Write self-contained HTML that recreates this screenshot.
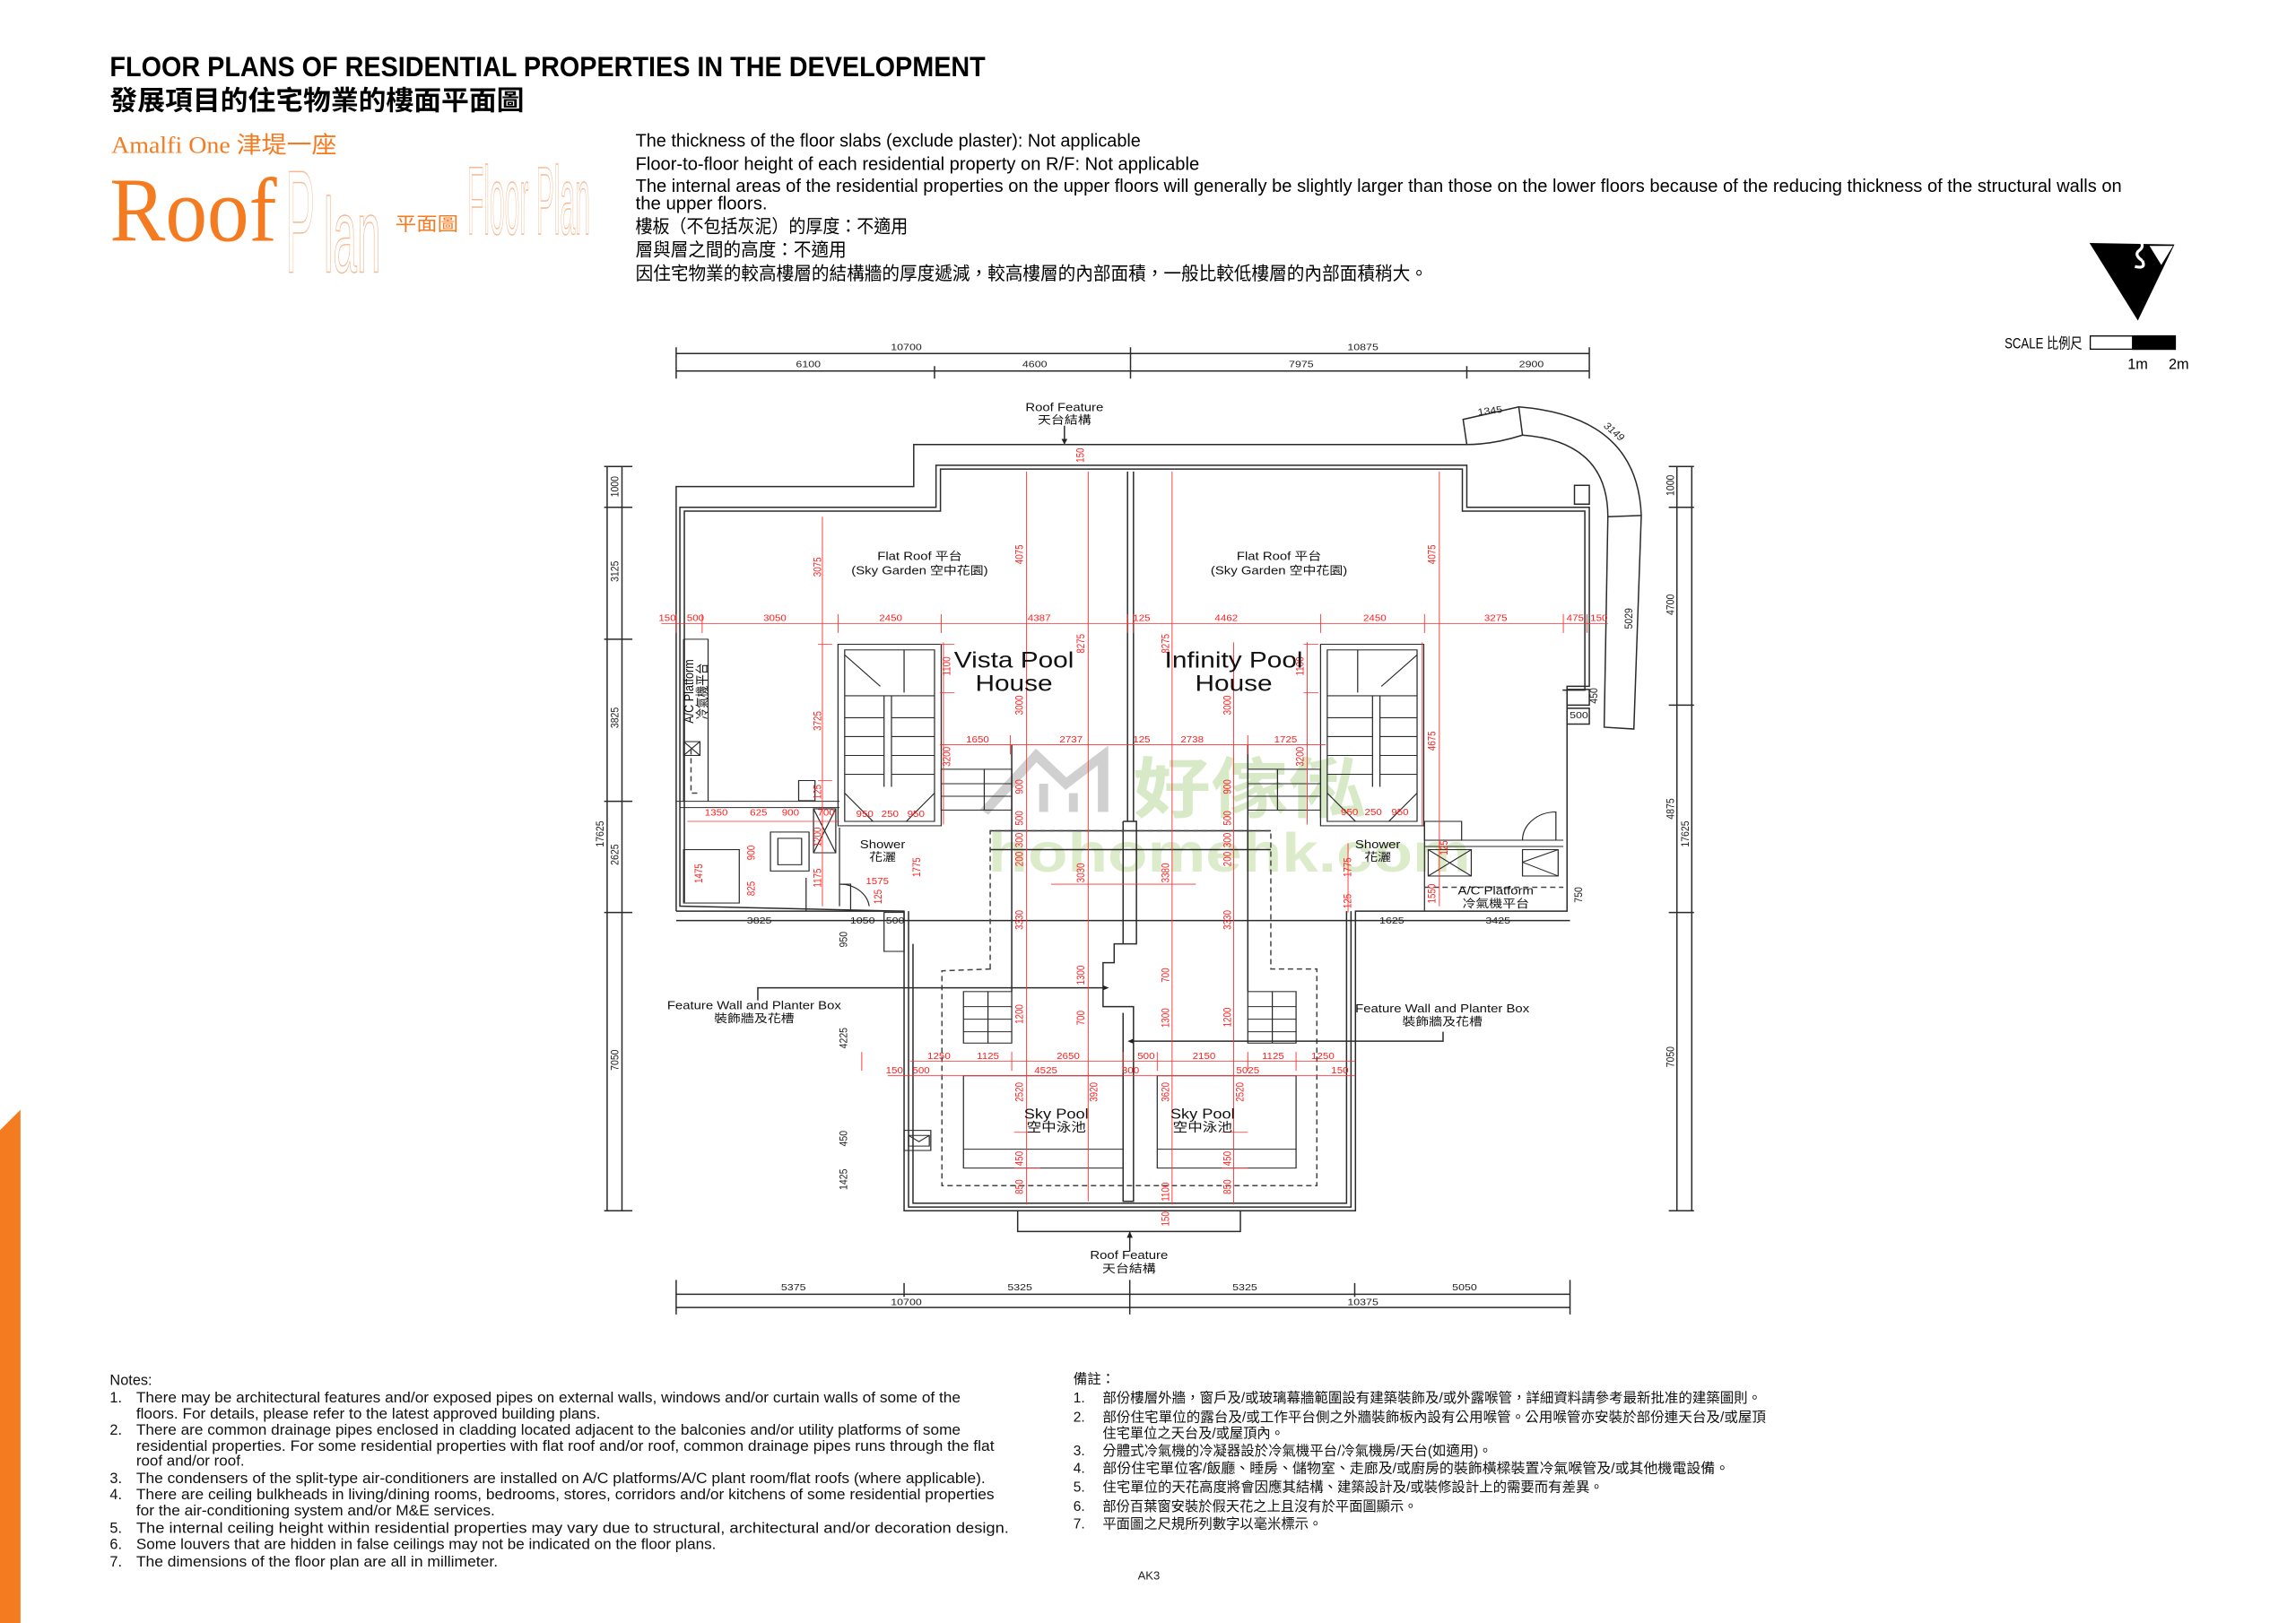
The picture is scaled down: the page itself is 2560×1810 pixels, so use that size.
<!DOCTYPE html>
<html><head><meta charset="utf-8"><style>
html,body{margin:0;padding:0;background:#fff;}
svg{display:block}
.k{stroke:#2a2a2a;fill:none;stroke-width:1.5;vector-effect:non-scaling-stroke}
.r{stroke:#ff3030;fill:none;stroke-width:1.1;vector-effect:non-scaling-stroke}
.d{stroke:#444;fill:none;stroke-width:1.5;stroke-dasharray:6 4;vector-effect:non-scaling-stroke}
.t{font-family:"Liberation Sans",sans-serif;fill:#111}
.rt{font-family:"Liberation Sans Narrow","Liberation Sans",sans-serif;fill:#ff2020;font-size:14px}
.dt{font-family:"Liberation Sans Narrow","Liberation Sans",sans-serif;fill:#222;font-size:15px}
.c{font-family:"Liberation Sans","Noto Sans CJK TC",sans-serif;fill:#111}
.thin{fill:none;stroke:#f6b890;stroke-width:0.9;font-family:"Liberation Sans",sans-serif}
</style></head><body>
<svg width="2560" height="1810" viewBox="0 0 1568 1108.6" preserveAspectRatio="none" xmlns="http://www.w3.org/2000/svg">
<rect width="1568" height="1108.6" fill="#fff"/>
<polygon points="0,772 14,758 14,1109 0,1109" fill="#f47b20"/>
<text x="75" y="52" font-family="Liberation Sans Narrow,Liberation Sans,sans-serif" font-weight="bold" font-size="19" textLength="598" lengthAdjust="spacingAndGlyphs" fill="#000">FLOOR PLANS OF RESIDENTIAL PROPERTIES IN THE DEVELOPMENT</text>
<text x="75" y="75" font-family="Noto Sans CJK TC,sans-serif" font-weight="bold" font-size="18.5" textLength="283" lengthAdjust="spacingAndGlyphs" fill="#000">發展項目的住宅物業的樓面平面圖</text>
<text x="76" y="104.5" font-family="Liberation Serif,Noto Sans CJK TC,serif" font-size="16" fill="#f47b20" textLength="154" lengthAdjust="spacingAndGlyphs">Amalfi One 津堤一座</text>
<text x="75" y="164.5" font-family="Liberation Serif,serif" font-size="62" fill="#f47b20" textLength="114" lengthAdjust="spacingAndGlyphs">Roof</text>
<text class="thin" x="195" y="186" font-size="100" textLength="20" lengthAdjust="spacingAndGlyphs">P</text>
<text class="thin" x="221" y="186" font-size="72" textLength="39" lengthAdjust="spacingAndGlyphs">lan</text>
<text x="270" y="157.5" font-family="Noto Sans CJK TC,sans-serif" font-size="13" fill="#f47b20" textLength="43" lengthAdjust="spacingAndGlyphs">平面圖</text>
<text class="thin" x="319" y="160" font-size="66" textLength="84" lengthAdjust="spacingAndGlyphs">Floor Plan</text>
<g font-family="Liberation Sans Narrow,Liberation Sans,Noto Sans CJK TC,sans-serif" font-size="12.5" fill="#000">
<text x="434" y="100" textLength="345" lengthAdjust="spacingAndGlyphs">The thickness of the floor slabs (exclude plaster): Not applicable</text>
<text x="434" y="116" textLength="385" lengthAdjust="spacingAndGlyphs">Floor-to-floor height of each residential property on R/F: Not applicable</text>
<text x="434" y="131" textLength="1015" lengthAdjust="spacingAndGlyphs">The internal areas of the residential properties on the upper floors will generally be slightly larger than those on the lower floors because of the reducing thickness of the structural walls on</text>
<text x="434" y="143" textLength="90" lengthAdjust="spacingAndGlyphs">the upper floors.</text>
<text x="434" y="159" textLength="186" lengthAdjust="spacingAndGlyphs">樓板（不包括灰泥）的厚度：不適用</text>
<text x="434" y="175" textLength="144" lengthAdjust="spacingAndGlyphs">層與層之間的高度：不適用</text>
<text x="434" y="191" textLength="541" lengthAdjust="spacingAndGlyphs">因住宅物業的較高樓層的結構牆的厚度遞減，較高樓層的內部面積，一般比較低樓層的內部面積稍大。</text>
</g>
<polygon points="1427,166 1485,167 1460,219" fill="#000"/>
<polygon points="1468,168 1484,168 1476,181" fill="#fff"/>
<path d="M1463,178 q-6,-4 -2,-7 q4,-3 0,-7 M1458,182 q8,2 5,-4" stroke="#fff" stroke-width="2" fill="none"/>
<rect x="1427.5" y="229.5" width="29" height="9" fill="#fff" stroke="#000" stroke-width="0.8"/>
<rect x="1456" y="229" width="30" height="10" fill="#000"/>
<text x="1369" y="238" font-family="Liberation Sans Narrow,Liberation Sans,Noto Sans CJK TC,sans-serif" font-size="10" textLength="53" lengthAdjust="spacingAndGlyphs">SCALE 比例尺</text>
<text x="1453" y="252" font-family="Liberation Sans Narrow,sans-serif" font-size="10">1m</text>
<text x="1481" y="252" font-family="Liberation Sans Narrow,sans-serif" font-size="10">2m</text>

<g transform="matrix(0.507 0 0 0.429 398.4 215.7)">
<g opacity="0.55">
<path d="M540,790 L610,700 L650,745 L700,700 L700,790" stroke="#aaa" stroke-width="14" fill="none"/>
<path d="M620,790 L620,745 M660,790 L660,760" stroke="#aaa" stroke-width="12"/>
<text x="740" y="790" font-family="Noto Sans CJK TC,sans-serif" font-size="105" font-weight="bold" fill="#b8d898">好傢俬</text>
<text x="545" y="885" font-family="Liberation Sans,sans-serif" font-size="88" font-weight="bold" fill="#c0dca0">hohomehk.com</text>
</g>
<path class="k" d="M125,60 H1355 M125,88 H1355 M125,50 V100 M473,80 V100 M737,50 V100 M1190,80 V100 M1355,50 V100"/>
<g class="dt" text-anchor="middle">
<text x="435" y="55">10700</text><text x="1050" y="55">10875</text>
<text x="303" y="82">6100</text><text x="608" y="82">4600</text><text x="967" y="82">7975</text><text x="1277" y="82">2900</text>
</g>
<path class="k" d="M32,240 V1425 M52,240 V1425 M28,240 H66 M28,305 H66 M28,515 H66 M28,773 H66 M28,950 H66 M28,1425 H66"/>
<path class="k" d="M1473,240 V1425 M1493,240 V1425 M1462,240 H1496 M1462,305 H1496 M1462,620 H1496 M1462,950 H1496 M1462,1425 H1496"/>
<g class="dt" text-anchor="middle">
<text transform="translate(47,272) rotate(-90)">1000</text>
<text transform="translate(47,407) rotate(-90)">3125</text>
<text transform="translate(47,640) rotate(-90)">3825</text>
<text transform="translate(47,858) rotate(-90)">2625</text>
<text transform="translate(47,1185) rotate(-90)">7050</text>
<text transform="translate(27,825) rotate(-90)">17625</text>
<text transform="translate(1469,270) rotate(-90)">1000</text>
<text transform="translate(1469,460) rotate(-90)">4700</text>
<text transform="translate(1469,785) rotate(-90)">4875</text>
<text transform="translate(1469,1180) rotate(-90)">7050</text>
<text transform="translate(1489,825) rotate(-90)">17625</text>
<text transform="translate(1413,482) rotate(-90)">5029</text>
<text transform="translate(355,1150) rotate(-90)">4225</text>
<text transform="translate(355,1310) rotate(-90)">450</text>
<text transform="translate(355,1375) rotate(-90)">1425</text>
<text transform="translate(355,993) rotate(-90)">950</text>
<text transform="translate(1345,922) rotate(-90)">750</text>
<text transform="translate(1366,605) rotate(-90)">450</text>
<text x="1341" y="641">500</text>
<text x="1222" y="156" transform="rotate(-8 1222 156)">1345</text>
<text x="1385" y="188" transform="rotate(45 1385 188)">3149</text>
</g>
<path class="k" d="M125,1558 H1329 M125,1579 H1329 M125,1535 V1590 M432,1540 V1562 M736,1535 V1590 M1039,1540 V1562 M1329,1535 V1590"/>
<g class="dt" text-anchor="middle">
<text x="283" y="1552">5375</text><text x="588" y="1552">5325</text><text x="891" y="1552">5325</text><text x="1187" y="1552">5050</text>
<text x="435" y="1575">10700</text><text x="1050" y="1575">10375</text>
</g>
<path class="k" d="M125,948 V272 H445 V205 H1190"/>
<path class="k" d="M1190,205 Q1225,205 1265,190 Q1380,200 1380,320 L1375,655 L1415,658 L1425,318 Q1420,160 1260,145 L1185,165 L1190,205"/>
<path class="k" d="M1265,190 L1260,145"/>
<path class="k" d="M1380,320 L1425,318"/>
<path class="k" d="M130,940 V305 H475 V238 H1190 V305 H1355 V590 H1325 V948 H1040 V1425 H432 V948 Z"/>
<path class="k" d="M136,934 V311 H481 V244 H1184 V311 H1349 V596 H1319"/>
<path class="k" d="M438,948 V1419 H1034 V948"/>
<path class="k" d="M444,1000 V1413 H1028 V948"/>
<path class="k" d="M125,948 H432 M125,963 H1329"/>
<path class="k" d="M1335,270 H1355 V300 H1335 Z M1325,595 H1355 V620 H1325 Z M1325,625 H1355 V650 H1325 Z"/>
<path class="k" d="M585,1425 V1458 H885 V1425 M736,1458 V1490"/>
<polygon points="736,1458 732,1468 740,1468" fill="#222"/>
<path class="k" d="M648,175 V200"/><polygon points="648,205 644,196 652,196" fill="#222"/>
<path class="k" d="M733,248 V805 M741,248 V805 M727,805 H745 V1000 H715 V1030 H700 V1100 H741 V1410 H727 V1110 M727,805 V1000"/>
<path class="k" d="M577,683 V1076 M895,683 V1076 M548,820 H926 M548,850 H926"/>
<path class="d" d="M548,1040 V820 H926 V1040 H988 V1385 H483 V1043 Z"/>
<g class="k">
<rect x="343" y="523" width="139" height="289"/><rect x="352" y="532" width="121" height="273"/>
<path d="M405,605 V750 M415,605 V750 M352,605 H473 M352,640 H405 M352,670 H405 M352,700 H405 M352,730 H405 M415,640 H473 M415,670 H473 M415,700 H473 M415,730 H473 M352,760 L390,805 M473,760 L435,805 M352,540 L400,590 M432,532 V600"/>
<rect x="993" y="523" width="139" height="289"/><rect x="1002" y="532" width="121" height="273"/>
<path d="M1063,605 V750 M1073,605 V750 M1002,605 H1123 M1002,640 H1063 M1002,670 H1063 M1002,700 H1063 M1002,730 H1063 M1073,640 H1123 M1073,670 H1123 M1073,700 H1123 M1073,730 H1123 M1002,760 L1040,805 M1123,760 L1085,805 M1123,540 L1075,590 M1043,532 V600"/>
<rect x="482" y="722" width="95" height="65"/><path d="M482,745 H577 M482,765 H577 M540,722 V787"/>
<rect x="895" y="722" width="98" height="65"/><path d="M895,745 H993 M895,765 H993 M935,722 V787"/>
<rect x="512" y="1076" width="65" height="82"/><path d="M512,1100 H577 M512,1120 H577 M512,1140 H577 M545,1076 V1158"/>
<rect x="895" y="1076" width="65" height="82"/><path d="M895,1100 H960 M895,1120 H960 M895,1140 H960 M928,1076 V1158"/>
<rect x="512" y="1210" width="215" height="147"/><path d="M512,1327 H727"/>
<rect x="773" y="1210" width="187" height="147"/><path d="M773,1327 H960"/>
<path d="M125,773 H345 M130,783 H345 M135,515 H168 V773 M135,515 V773"/>
<rect x="135" y="850" width="75" height="85"/><rect x="252" y="822" width="52" height="62"/><rect x="262" y="832" width="32" height="42"/>
<rect x="310" y="785" width="30" height="70"/><path d="M310,785 L340,855 M340,785 L310,855"/>
<rect x="135" y="678" width="22" height="22"/><path d="M135,678 L157,700 M157,678 L135,700"/>
<rect x="290" y="740" width="22" height="32"/>
<path d="M345,815 V940 M300,895 V948 M345,905 H360 V948"/>
<path d="M345,905 A40,40 0 0 1 385,940"/>
<path d="M1133,835 H1320 M1133,845 H1320 M1133,812 V948"/>
<rect x="1138" y="850" width="58" height="42"/><path d="M1138,850 L1196,892 M1196,850 L1138,892"/>
<rect x="1265" y="850" width="48" height="42"/><path d="M1265,870 L1313,850 M1265,870 L1313,892"/>
<rect x="1133" y="805" width="50" height="30"/>
<path d="M1265,835 A45,45 0 0 1 1310,790 V835"/>
<rect x="432" y="1297" width="36" height="32"/><path d="M438,1305 L452,1315 L466,1305 M438,1305 H466 V1322 H438 Z"/>
<rect x="405" y="950" width="27" height="62"/>
</g>
<path class="d" d="M1133,910 H1320"/>
<path class="d" d="M145,690 V760 H158"/>
<path class="k" d="M235,1090 V1070 H705 M1158,1140 V1155 H737"/>
<polygon points="708,1070 700,1066 700,1074" fill="#222"/>
<polygon points="733,1155 741,1151 741,1159" fill="#222"/>
<g class="r">
<path d="M105,490 H1380 M480,683 H1000 M440,1187 H1040 M410,1210 H1040 M140,805 H345 M630,905 H825"/>
<path d="M597,248 V1415 M680,248 V1410 M793,248 V1415 M876,520 V1415 M322,320 V940 M1153,248 V940 M485,520 V810 M975,520 V810 M1130,520 V812 M1030,840 V950"/>
<path d="M125,475 V505 M160,475 V505 M343,475 V505 M482,475 V505 M733,475 V505 M741,475 V505 M993,475 V505 M1133,475 V505 M1320,475 V505 M1352,475 V505 M575,668 V698 M895,668 V698 M375,1172 V1202 M577,1172 V1202 M727,1172 V1202 M773,1172 V1202 M895,1172 V1202 M960,1172 V1202"/>
<path d="M316,523 H335 M316,740 H335 M480,523 H500 M480,600 H500 M970,523 H990 M970,600 H990 M580,1300 H615 M580,1357 H615 M860,1300 H895 M860,1357 H895"/>
</g>
<g class="rt" text-anchor="middle">
<text x="113" y="486">150</text><text x="151" y="486">500</text><text x="258" y="486">3050</text><text x="414" y="486">2450</text><text x="614" y="486">4387</text><text x="752" y="486">125</text><text x="866" y="486">4462</text><text x="1066" y="486">2450</text><text x="1229" y="486">3275</text><text x="1336" y="486">475</text><text x="1368" y="486">150</text>
<text x="531" y="679">1650</text><text x="657" y="679">2737</text><text x="752" y="679">125</text><text x="820" y="679">2738</text><text x="946" y="679">1725</text>
<text x="179" y="796">1350</text><text x="236" y="796">625</text><text x="279" y="796">900</text><text x="327" y="796">700</text>
<text x="379" y="798">950</text><text x="413" y="798">250</text><text x="448" y="798">950</text>
<text x="1032" y="795">950</text><text x="1064" y="795">250</text><text x="1100" y="795">950</text>
<text x="396" y="905">1575</text>
<text x="479" y="1183">1250</text><text x="545" y="1183">1125</text><text x="653" y="1183">2650</text><text x="758" y="1183">500</text><text x="836" y="1183">2150</text><text x="929" y="1183">1125</text><text x="996" y="1183">1250</text>
<text x="419" y="1206">150</text><text x="455" y="1206">500</text><text x="623" y="1206">4525</text><text x="737" y="1206">300</text><text x="895" y="1206">5025</text><text x="1019" y="1206">150</text>
<text transform="translate(674,222) rotate(-90)">150</text>
<text transform="translate(320,400) rotate(-90)">3075</text>
<text transform="translate(592,380) rotate(-90)">4075</text>
<text transform="translate(1148,380) rotate(-90)">4075</text>
<text transform="translate(675,522) rotate(-90)">8275</text>
<text transform="translate(789,522) rotate(-90)">8275</text>
<text transform="translate(320,645) rotate(-90)">3725</text>
<text transform="translate(494,558) rotate(-90)">1100</text>
<text transform="translate(970,558) rotate(-90)">1100</text>
<text transform="translate(592,620) rotate(-90)">3000</text>
<text transform="translate(872,620) rotate(-90)">3000</text>
<text transform="translate(494,702) rotate(-90)">3200</text>
<text transform="translate(970,702) rotate(-90)">3200</text>
<text transform="translate(1148,677) rotate(-90)">4675</text>
<text transform="translate(592,750) rotate(-90)">900</text><text transform="translate(872,750) rotate(-90)">900</text>
<text transform="translate(592,800) rotate(-90)">500</text><text transform="translate(872,800) rotate(-90)">500</text>
<text transform="translate(592,835) rotate(-90)">300</text><text transform="translate(872,835) rotate(-90)">300</text>
<text transform="translate(592,865) rotate(-90)">200</text><text transform="translate(872,865) rotate(-90)">200</text>
<text transform="translate(675,887) rotate(-90)">3030</text><text transform="translate(789,887) rotate(-90)">3380</text>
<text transform="translate(592,962) rotate(-90)">3330</text><text transform="translate(872,962) rotate(-90)">3330</text>
<text transform="translate(675,1050) rotate(-90)">1300</text><text transform="translate(789,1050) rotate(-90)">700</text>
<text transform="translate(675,1118) rotate(-90)">700</text><text transform="translate(789,1118) rotate(-90)">1300</text>
<text transform="translate(592,1112) rotate(-90)">1200</text><text transform="translate(872,1117) rotate(-90)">1200</text>
<text transform="translate(592,1236) rotate(-90)">2520</text><text transform="translate(889,1236) rotate(-90)">2520</text>
<text transform="translate(692,1236) rotate(-90)">3920</text><text transform="translate(789,1236) rotate(-90)">3620</text>
<text transform="translate(592,1342) rotate(-90)">450</text><text transform="translate(872,1342) rotate(-90)">450</text>
<text transform="translate(592,1387) rotate(-90)">850</text><text transform="translate(872,1387) rotate(-90)">850</text>
<text transform="translate(789,1395) rotate(-90)">1100</text><text transform="translate(789,1438) rotate(-90)">150</text>
<text transform="translate(160,888) rotate(-90)">1475</text>
<text transform="translate(231,855) rotate(-90)">900</text><text transform="translate(231,912) rotate(-90)">825</text>
<text transform="translate(320,895) rotate(-90)">1175</text><text transform="translate(320,830) rotate(-90)">1200</text>
<text transform="translate(454,878) rotate(-90)">1775</text><text transform="translate(1034,878) rotate(-90)">1775</text>
<text transform="translate(1034,932) rotate(-90)">125</text><text transform="translate(1148,920) rotate(-90)">1550</text>
<text transform="translate(1164,847) rotate(-90)">125</text><text transform="translate(320,758) rotate(-90)">125</text>
<text transform="translate(402,925) rotate(-90)">125</text>
</g>
<g class="dt" text-anchor="middle">
<text x="237" y="968">3825</text><text x="376" y="968">1050</text><text x="420" y="968">500</text>
<text x="1089" y="968">1625</text><text x="1232" y="968">3425</text>
</g>
<g class="c" text-anchor="middle" font-size="18">
<text x="648" y="152">Roof Feature</text><text x="648" y="172">天台結構</text>
<text x="453" y="389">Flat Roof 平台</text><text x="453" y="412">(Sky Garden 空中花園)</text>
<text x="937" y="389">Flat Roof 平台</text><text x="937" y="412">(Sky Garden 空中花園)</text>
<text x="403" y="848">Shower</text><text x="403" y="868">花灑</text>
<text x="1070" y="848">Shower</text><text x="1070" y="868">花灑</text>
<text x="1229" y="921">A/C Platform</text><text x="1229" y="942">冷氣機平台</text>
<text x="230" y="1104">Feature Wall and Planter Box</text><text x="230" y="1125">裝飾牆及花槽</text>
<text x="1157" y="1109">Feature Wall and Planter Box</text><text x="1157" y="1130">裝飾牆及花槽</text>
<text x="637" y="1278" font-size="22">Sky Pool</text><text x="637" y="1299" font-size="20">空中泳池</text>
<text x="834" y="1278" font-size="22">Sky Pool</text><text x="834" y="1299" font-size="20">空中泳池</text>
<text x="735" y="1502">Roof Feature</text><text x="735" y="1523">天台結構</text>
<text transform="translate(148,598) rotate(-90)">A/C Platform</text>
<text transform="translate(166,598) rotate(-90)">冷氣機平台</text>
</g>
<g class="t" text-anchor="middle" font-size="36">
<text x="580" y="560">Vista Pool</text><text x="580" y="597">House</text>
<text x="876" y="560">Infinity Pool</text><text x="876" y="597">House</text>
</g>
</g>

<g font-family="Liberation Sans Narrow,Liberation Sans,sans-serif" font-size="10" fill="#111">
<text x="75" y="946">Notes:</text>
<text x="75" y="958">1.</text><text x="93" y="958" textLength="563" lengthAdjust="spacingAndGlyphs">There may be architectural features and/or exposed pipes on external walls, windows and/or curtain walls of some of the</text>
<text x="93" y="969" textLength="317" lengthAdjust="spacingAndGlyphs">floors. For details, please refer to the latest approved building plans.</text>
<text x="75" y="980">2.</text><text x="93" y="980" textLength="563" lengthAdjust="spacingAndGlyphs">There are common drainage pipes enclosed in cladding located adjacent to the balconies and/or utility platforms of some</text>
<text x="93" y="991" textLength="586" lengthAdjust="spacingAndGlyphs">residential properties. For some residential properties with flat roof and/or roof, common drainage pipes runs through the flat</text>
<text x="93" y="1001" textLength="74" lengthAdjust="spacingAndGlyphs">roof and/or roof.</text>
<text x="75" y="1013">3.</text><text x="93" y="1013" textLength="580" lengthAdjust="spacingAndGlyphs">The condensers of the split-type air-conditioners are installed on A/C platforms/A/C plant room/flat roofs (where applicable).</text>
<text x="75" y="1024">4.</text><text x="93" y="1024" textLength="586" lengthAdjust="spacingAndGlyphs">There are ceiling bulkheads in living/dining rooms, bedrooms, stores, corridors and/or kitchens of some residential properties</text>
<text x="93" y="1035" textLength="245" lengthAdjust="spacingAndGlyphs">for the air-conditioning system and/or M&amp;E services.</text>
<text x="75" y="1047">5.</text><text x="93" y="1047" textLength="596" lengthAdjust="spacingAndGlyphs">The internal ceiling height within residential properties may vary due to structural, architectural and/or decoration design.</text>
<text x="75" y="1058">6.</text><text x="93" y="1058" textLength="396" lengthAdjust="spacingAndGlyphs">Some louvers that are hidden in false ceilings may not be indicated on the floor plans.</text>
<text x="75" y="1070">7.</text><text x="93" y="1070" textLength="247" lengthAdjust="spacingAndGlyphs">The dimensions of the floor plan are all in millimeter.</text>
</g>
<g font-family="Liberation Sans,Noto Sans CJK TC,sans-serif" font-size="9.5" fill="#111">
<text x="733" y="945">備註：</text>
<text x="733" y="958">1.</text><text x="753" y="958" textLength="450" lengthAdjust="spacingAndGlyphs">部份樓層外牆，窗戶及/或玻璃幕牆範圍設有建築裝飾及/或外露喉管，詳細資料請參考最新批准的建築圖則。</text>
<text x="733" y="971">2.</text><text x="753" y="971" textLength="453" lengthAdjust="spacingAndGlyphs">部份住宅單位的露台及/或工作平台側之外牆裝飾板內設有公用喉管。公用喉管亦安裝於部份連天台及/或屋頂</text>
<text x="753" y="982" textLength="124" lengthAdjust="spacingAndGlyphs">住宅單位之天台及/或屋頂內。</text>
<text x="733" y="994">3.</text><text x="753" y="994" textLength="266" lengthAdjust="spacingAndGlyphs">分體式冷氣機的冷凝器設於冷氣機平台/冷氣機房/天台(如適用)。</text>
<text x="733" y="1006">4.</text><text x="753" y="1006" textLength="428" lengthAdjust="spacingAndGlyphs">部份住宅單位客/飯廳、睡房、儲物室、走廊及/或廚房的裝飾橫樑裝置冷氣喉管及/或其他機電設備。</text>
<text x="733" y="1019">5.</text><text x="753" y="1019" textLength="342" lengthAdjust="spacingAndGlyphs">住宅單位的天花高度將會因應其結構、建築設計及/或裝修設計上的需要而有差異。</text>
<text x="733" y="1032">6.</text><text x="753" y="1032" textLength="215" lengthAdjust="spacingAndGlyphs">部份百葉窗安裝於假天花之上且沒有於平面圖顯示。</text>
<text x="733" y="1044">7.</text><text x="753" y="1044" textLength="150" lengthAdjust="spacingAndGlyphs">平面圖之尺規所列數字以毫米標示。</text>
</g>
<text x="777" y="1079" font-family="Liberation Sans Narrow,sans-serif" font-size="8" fill="#222">AK3</text>
</svg>
</body></html>
